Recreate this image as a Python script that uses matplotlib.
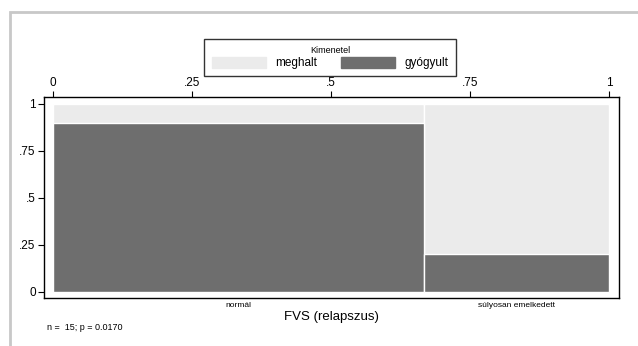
import matplotlib
matplotlib.use("Agg")
from matplotlib import pyplot as plt
from matplotlib.patches import Patch, Rectangle
import numpy as np

plt.rcParams['font.family'] = ['Liberation Sans', 'DejaVu Sans']

# adatok
categories = ["normál", "súlyosan emelkedett"]
counts = [10, 5]
cured_share = [0.9, 0.2]
outcomes = ["meghalt", "gyógyult"]
x_ticks = [0, 0.25, 0.5, 0.75, 1]
x_tick_labels = ["0", ".25", ".5", ".75", "1"]
y_ticks = [0, 0.25, 0.5, 0.75, 1]
y_tick_labels = ["0", ".25", ".5", ".75", "1"]
n_total = 15
p_value = 0.0170

light = "#ebebeb"
dark = "#6e6e6e"

counts = np.array(counts, dtype=float)
widths = counts / counts.sum()
lefts = np.concatenate([[0], np.cumsum(widths)[:-1]])
centers = lefts + widths / 2
cured = np.array(cured_share)

fig = plt.figure(figsize=(6.38, 3.46), dpi=100)
W, H = 638, 346
ax = fig.add_axes([44 / W, 1 - 298 / H, (619 - 44) / W, (298 - 97) / H])

# oszlopok
ax.bar(lefts, np.ones_like(cured), width=widths, align="edge", color=light,
       edgecolor="white", linewidth=1.0)
ax.bar(lefts, cured, width=widths, align="edge", color=dark,
       edgecolor="white", linewidth=1.0)

ax.set_xlim(-0.016, 1.018)
ax.set_ylim(-0.032, 1.037)

ax.xaxis.set_ticks_position("top")
ax.set_xticks(x_ticks)
ax.set_xticklabels(x_tick_labels, fontsize=8.5)
ax.set_yticks(y_ticks)
ax.set_yticklabels(y_tick_labels, fontsize=8.5)
ax.tick_params(axis="both", direction="out", length=4, width=0.8, pad=2)
for s in ax.spines.values():
    s.set_linewidth(1.0)

sec = ax.secondary_xaxis("bottom")
sec.set_xticks(centers)
sec.set_xticklabels(categories, fontsize=6)
sec.tick_params(length=0, pad=3)
sec.spines["bottom"].set_visible(False)
sec.set_xlabel("FVS (relapszus)", fontsize=9.5, labelpad=1)

# jelmagyarázat
handles = [Patch(facecolor=light, edgecolor=light), Patch(facecolor=dark, edgecolor=dark)]
leg = fig.legend(handles, outcomes, loc="center", bbox_to_anchor=(330 / W, 1 - 57.5 / H),
                 ncol=2, title="Kimenetel", fontsize=8.5, title_fontsize=6.5,
                 frameon=True, fancybox=False, edgecolor="black", handlelength=4.6,
                 handleheight=1.0, columnspacing=2.0, handletextpad=0.8,
                 borderpad=0.6, labelspacing=0.2)
leg.get_frame().set_linewidth(1.0)

fig.text(47 / W, 1 - 328 / H, f"n =  {n_total}; p = {p_value:.4f}", fontsize=6.5, va="center")

# külső keret
fig.patches.append(Rectangle((10 / W, -0.1), 1.2, 1 - 12 / H + 0.1, transform=fig.transFigure,
                             fill=False, edgecolor="#c8c8c8", linewidth=2))

fig.savefig("out.png", dpi=100)
